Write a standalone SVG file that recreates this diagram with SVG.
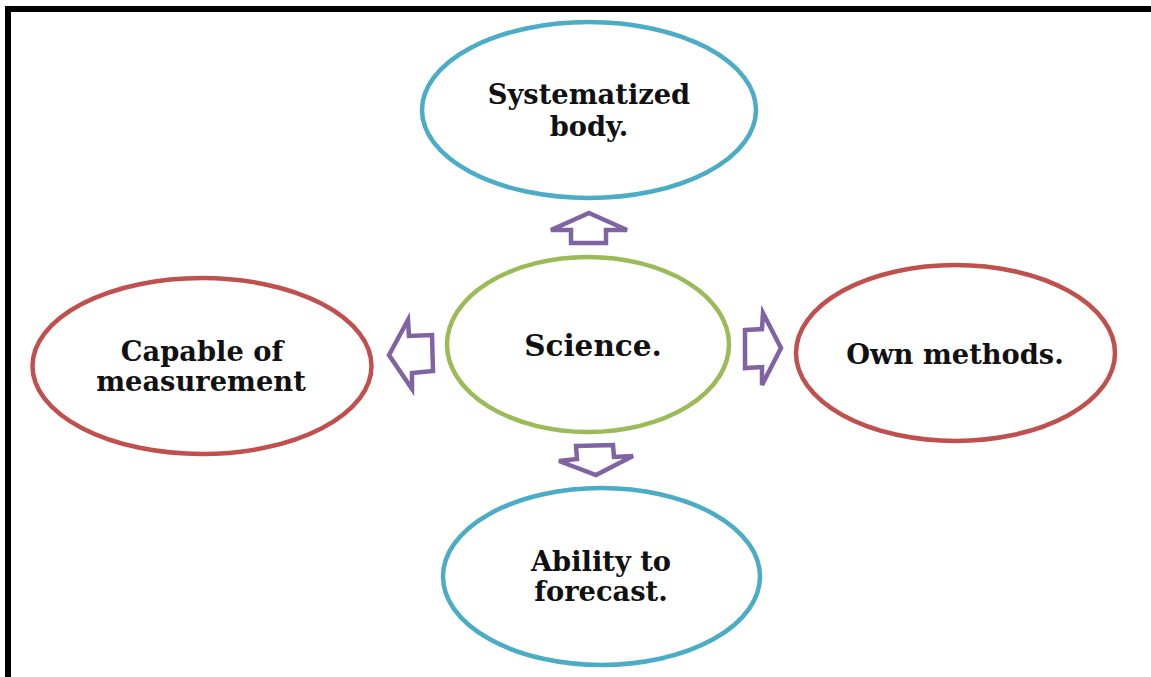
<svg xmlns="http://www.w3.org/2000/svg" width="1151" height="677" viewBox="0 0 1151 677">
  <style>
    .node { fill: #ffffff; stroke-width: 4.5; }
    .blue { stroke: #4BACC6; }
    .red { stroke: #C0504D; }
    .green { stroke: #9BBB59; }
    .label { font-family: "DejaVu Serif", "Liberation Serif", serif; font-weight: bold; font-size: 27.3px; fill: #111111; text-anchor: middle; }
    .arrow { fill: #ffffff; stroke: #8064A2; stroke-width: 4.5; stroke-linejoin: miter; }
  </style>
  <rect x="0" y="0" width="1151" height="677" fill="#ffffff"/>
  <!-- frame: top and left edges only -->
  <path d="M8 677 V9 H1151" fill="none" stroke="#000000" stroke-width="6"/>

  <g id="connectors">
    <polygon class="arrow" points="589,213 627,230 606,230 606,243 571,243 571,230 551,230"/>
    <polygon class="arrow" points="389,355 408,320 409,336 432,335 433,371 412,373 412,389"/>
    <polygon class="arrow" points="745,330 762,329 763,313 781,348 762,385 762,367 745,368"/>
    <polygon class="arrow" points="576,446 613,445 614,457 633,456 596,475 559,461 577,459"/>
  </g>

  <g id="node-science">
    <ellipse class="node green" cx="588" cy="344.5" rx="141" ry="87.5"/>
    <text class="label" x="593" y="356" style="font-size:29.5px">Science.</text>
  </g>

  <g id="node-systematized">
    <ellipse class="node blue" cx="589" cy="110" rx="167" ry="88"/>
    <text class="label" x="589" y="104">Systematized</text>
    <text class="label" x="589" y="136">body.</text>
  </g>

  <g id="node-measurement">
    <ellipse class="node red" cx="202" cy="366" rx="169.5" ry="88"/>
    <text class="label" x="202" y="361">Capable of</text>
    <text class="label" x="201" y="391">measurement</text>
  </g>

  <g id="node-methods">
    <ellipse class="node red" cx="955.5" cy="353" rx="159.5" ry="88"/>
    <text class="label" x="955" y="364">Own methods.</text>
  </g>

  <g id="node-forecast">
    <ellipse class="node blue" cx="601.5" cy="576.5" rx="158.5" ry="88.5"/>
    <text class="label" x="601" y="571">Ability to</text>
    <text class="label" x="601" y="601">forecast.</text>
  </g>
</svg>
